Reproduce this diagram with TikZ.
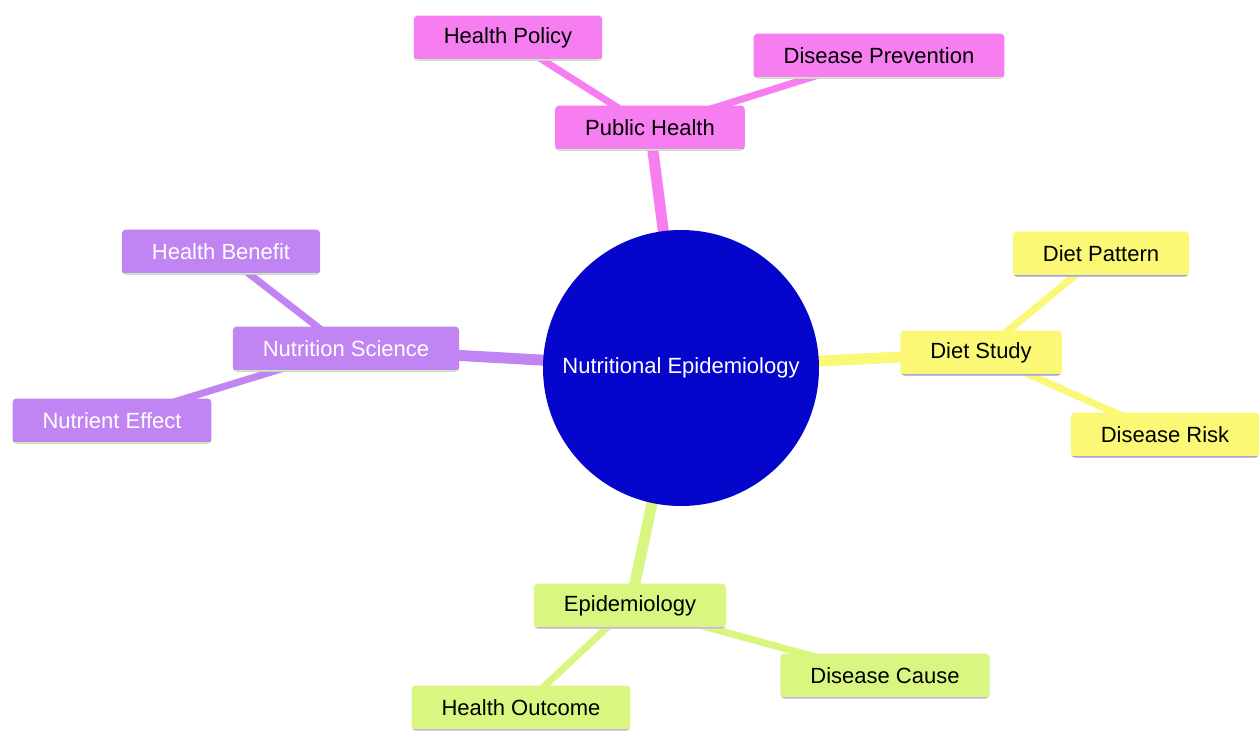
\documentclass[tikz,border=0pt]{standalone}
\usepackage{fontspec}
\setmainfont{Liberation Sans}
\usetikzlibrary{backgrounds}

\definecolor{pinkfill}{HTML}{F67EF1}
\definecolor{purplefill}{HTML}{C084F3}
\definecolor{yellowfill}{HTML}{FBF875}
\definecolor{greenfill}{HTML}{D9F780}
\definecolor{rootblue}{HTML}{0505CC}
\definecolor{greenline}{HTML}{C6F0B8}
\definecolor{blueline}{HTML}{A8A0E6}
\definecolor{lavline}{HTML}{C8B4EC}

\tikzset{
  topic/.style={rounded corners=4pt, minimum height=45pt, inner xsep=30pt,
    font=\fontsize{22}{26}\selectfont},
  pinknode/.style={topic, fill=pinkfill, text=black,
    path picture={\draw[greenline, line width=3pt] (path picture bounding box.south west) -- (path picture bounding box.south east);}},
  purplenode/.style={topic, fill=purplefill, text=white,
    path picture={\draw[greenline, line width=3pt] (path picture bounding box.south west) -- (path picture bounding box.south east);}},
  yellownode/.style={topic, fill=yellowfill, text=black,
    path picture={\draw[blueline, line width=3pt] (path picture bounding box.south west) -- (path picture bounding box.south east);}},
  greennode/.style={topic, fill=greenfill, text=black,
    path picture={\draw[lavline, line width=3pt] (path picture bounding box.south west) -- (path picture bounding box.south east);}},
  trunk/.style={line width=11pt},
  twig/.style={line width=7pt}
}

\begin{document}
\begin{tikzpicture}[x=1pt,y=-1pt]
  \useasboundingbox (0,0) rectangle (1259,731);

  % root
  \node[circle, fill=rootblue, minimum size=276pt, text=white,
        font=\fontsize{22}{26}\selectfont] (root) at (681,368) {Nutritional Epidemiology};

  % public health branch
  \node[pinknode] (pubhealth) at (650,128) {Public Health};
  \node[pinknode] (policy) at (508,38) {Health Policy};
  \node[pinknode] (prevent) at (879,56) {Disease Prevention};

  % nutrition science branch
  \node[purplenode] (nutrsci) at (346,349) {Nutrition Science};
  \node[purplenode] (benefit) at (221,252) {Health Benefit};
  \node[purplenode] (nutreff) at (112,421) {Nutrient Effect};

  % diet study branch
  \node[yellownode] (dietstudy) at (981,353) {Diet Study};
  \node[yellownode] (pattern) at (1101,254) {Diet Pattern};
  \node[yellownode] (risk) at (1165,435) {Disease Risk};

  % epidemiology branch
  \node[greennode] (epi) at (630,606) {Epidemiology};
  \node[greennode] (outcome) at (521,708) {Health Outcome};
  \node[greennode] (cause) at (885,676) {Disease Cause};

  \begin{scope}[on background layer]
    \fill[white] (0,0) rectangle (1259,731);
    \draw[trunk, pinkfill] (root.center) -- (pubhealth.center);
    \draw[twig, pinkfill] (pubhealth.center) -- (policy.center);
    \draw[twig, pinkfill] (pubhealth.center) -- (prevent.center);
    \draw[trunk, purplefill] (root.center) -- (nutrsci.center);
    \draw[twig, purplefill] (nutrsci.center) -- (benefit.center);
    \draw[twig, purplefill] (nutrsci.center) -- (nutreff.center);
    \draw[trunk, yellowfill] (root.center) -- (dietstudy.center);
    \draw[twig, yellowfill] (dietstudy.center) -- (pattern.center);
    \draw[twig, yellowfill] (dietstudy.center) -- (risk.center);
    \draw[trunk, greenfill] (root.center) -- (epi.center);
    \draw[twig, greenfill] (epi.center) -- (outcome.center);
    \draw[twig, greenfill] (epi.center) -- (cause.center);
  \end{scope}
\end{tikzpicture}
\end{document}
